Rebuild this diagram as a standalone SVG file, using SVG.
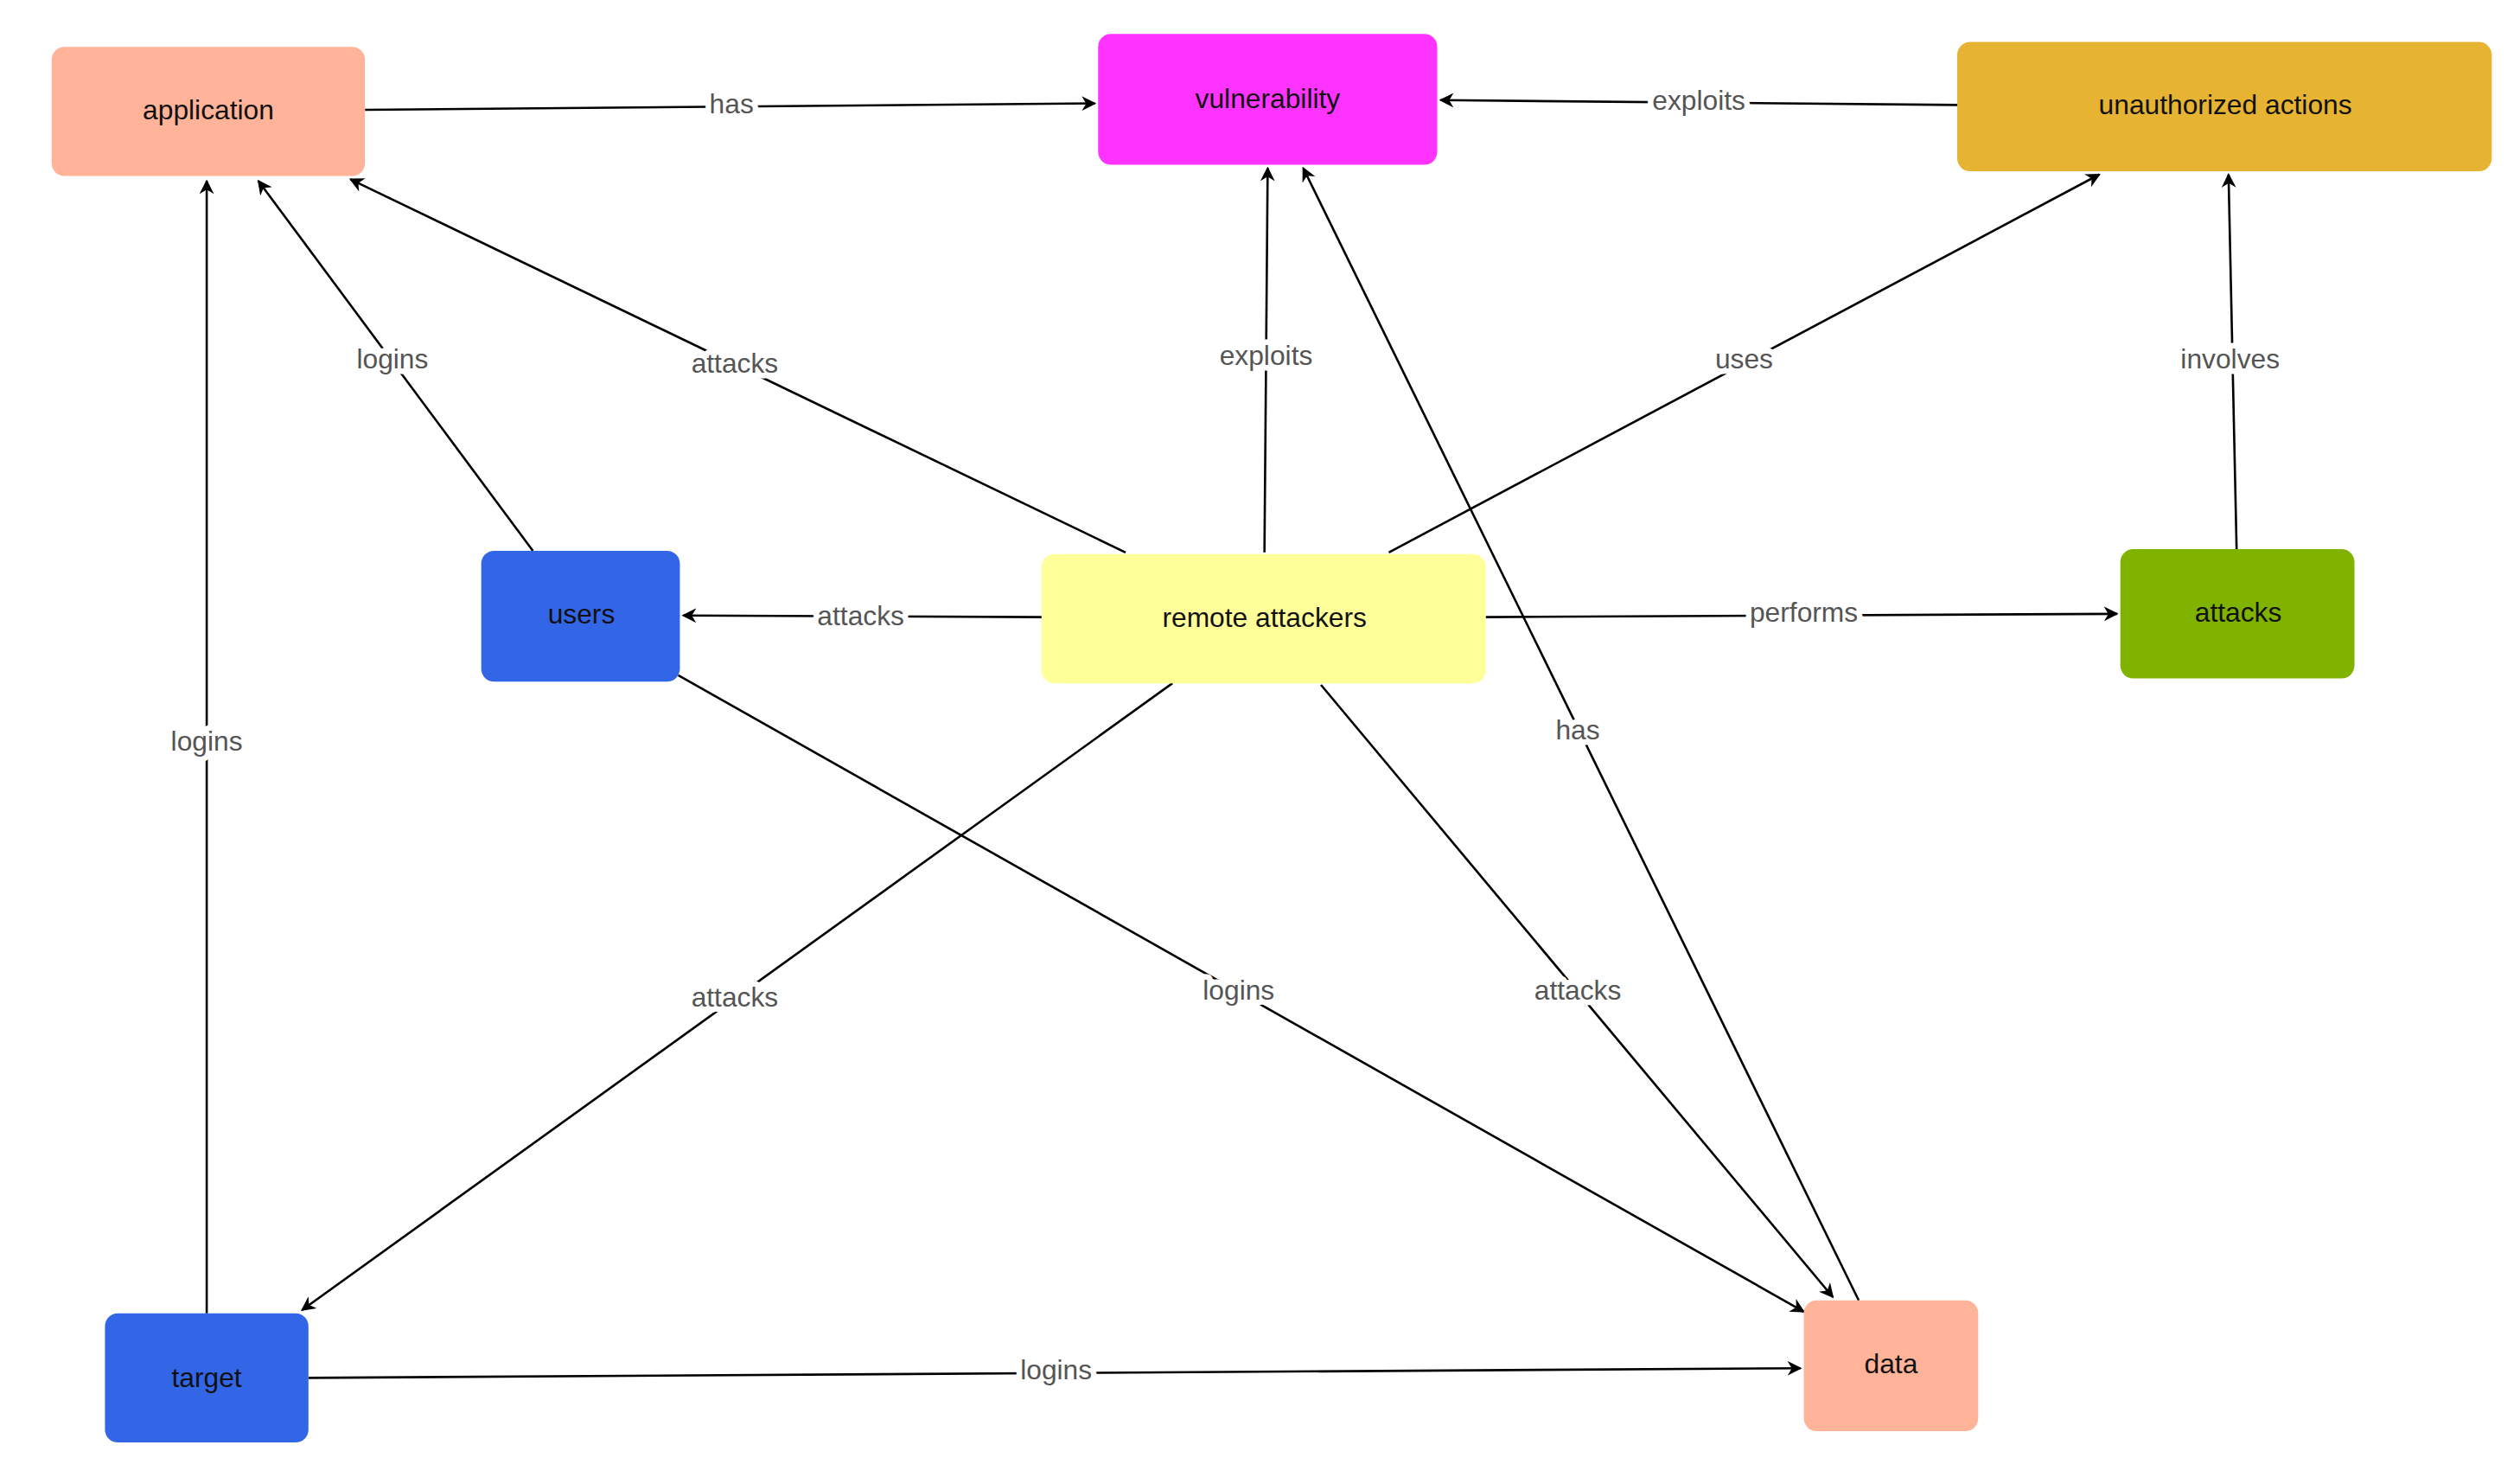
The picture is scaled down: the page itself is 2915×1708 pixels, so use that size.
<svg xmlns="http://www.w3.org/2000/svg" width="2915" height="1708" viewBox="0 0 2915 1708">
<defs>
<style>
.n{stroke:none}
.t{font-family:"Liberation Sans",Arial,sans-serif;font-size:17px;fill:#111;text-anchor:middle;dominant-baseline:central}
.e{stroke:#000;stroke-width:1.4;fill:none;marker-end:url(#a)}
.l{font-family:"Liberation Sans",Arial,sans-serif;font-size:17px;fill:#555;text-anchor:middle;dominant-baseline:central;stroke:#fff;stroke-width:7;paint-order:stroke;stroke-linejoin:round}
</style>
<marker id="a" viewBox="0 0 10 10" refX="9" refY="5" markerWidth="9" markerHeight="9" markerUnits="userSpaceOnUse" orient="auto"><path d="M0,0 L10,5 L0,10 L3,5 z" fill="#000"/></marker>
</defs>
<rect width="2915" height="1708" fill="#fff"/>
<g transform="scale(1.868)">
<g id="connectors">
<path class="e" d="M226,68 L678,64"/><text class="l" x="453" y="64">has</text>
<path class="e" d="M1212,65 L892,62"/><text class="l" x="1052" y="62">exploits</text>
<path class="e" d="M330,341 L160,112"/><text class="l" x="243" y="222">logins</text>
<path class="e" d="M697,342 L217,111"/><text class="l" x="455" y="225">attacks</text>
<path class="e" d="M783,342 L785,104"/><text class="l" x="784" y="220">exploits</text>
<path class="e" d="M860,342 L1300,108"/><text class="l" x="1080" y="222">uses</text>
<path class="e" d="M1385,340 L1380,108"/><text class="l" x="1381" y="222">involves</text>
<path class="e" d="M645,382 L423,381"/><text class="l" x="533" y="381">attacks</text>
<path class="e" d="M920,382 L1311,380"/><text class="l" x="1117" y="379">performs</text>
<path class="e" d="M128,813 L128,112"/><text class="l" x="128" y="459">logins</text>
<path class="e" d="M726,423 L187,811"/><text class="l" x="455" y="617">attacks</text>
<path class="e" d="M420,418 L1117,812"/><text class="l" x="767" y="613">logins</text>
<path class="e" d="M818,424 L1135,803"/><text class="l" x="977" y="613">attacks</text>
<path class="e" d="M1151,805 L807,104"/><text class="l" x="977" y="452">has</text>
<path class="e" d="M191,853 L1115,847"/><text class="l" x="654" y="848">logins</text>
</g>
<g id="application"><rect class="n" x="32" y="29" width="194" height="80" rx="8" fill="#FFB399"/><text class="t" x="129" y="68">application</text></g>
<g id="vulnerability"><rect class="n" x="680" y="21" width="210" height="81" rx="8" fill="#FF33FF"/><text class="t" x="785" y="61">vulnerability</text></g>
<g id="unauthorized"><rect class="n" x="1212" y="26" width="331" height="80" rx="8" fill="#E6B333"/><text class="t" x="1378" y="65">unauthorized actions</text></g>
<g id="users"><rect class="n" x="298" y="341" width="123" height="81" rx="8" fill="#3366E6"/><text class="t" x="360" y="380">users</text></g>
<g id="remote"><rect class="n" x="645" y="343" width="275" height="80" rx="8" fill="#FFFF99"/><text class="t" x="783" y="382">remote attackers</text></g>
<g id="attacks"><rect class="n" x="1313" y="340" width="145" height="80" rx="8" fill="#80B300"/><text class="t" x="1386" y="379">attacks</text></g>
<g id="target"><rect class="n" x="65" y="813" width="126" height="80" rx="8" fill="#3366E6"/><text class="t" x="128" y="853">target</text></g>
<g id="data"><rect class="n" x="1117" y="805" width="108" height="81" rx="8" fill="#FFB399"/><text class="t" x="1171" y="844">data</text></g>
</g>
</svg>
